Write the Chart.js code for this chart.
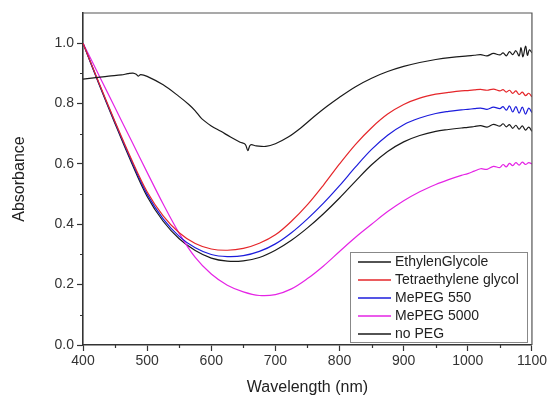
<!DOCTYPE html>
<html>
<head>
<meta charset="utf-8">
<script src="https://cdn.jsdelivr.net/npm/chart.js@4"></script>
<style>
  body { margin: 0; background: #fff; }
  canvas { display: block; }
</style>
</head>
<body>
<canvas id="chart_container" width="549" height="399"></canvas>
<script>
// shared wavelength grid (nm)
const wavelength = [400, 425, 450, 475, 500, 525, 550, 575, 600, 625, 650, 675, 700, 725, 750, 775, 800, 825, 850, 875, 900, 925, 950,
  970, 990, 1000, 1010, 1020, 1030, 1040, 1050, 1055, 1060, 1065, 1070, 1075, 1080, 1085, 1090, 1095, 1100]

const tetraethylene = [1.0, 0.868, 0.74, 0.618, 0.508, 0.428, 0.372, 0.336, 0.318, 0.314, 0.32, 0.337, 0.365, 0.41, 0.465, 0.53, 0.60, 0.665, 0.72, 0.765, 0.797, 0.818, 0.831,
  0.837, 0.842, 0.843, 0.845, 0.847, 0.844, 0.848, 0.842, 0.846, 0.838, 0.844, 0.834, 0.842, 0.83, 0.838, 0.826, 0.834, 0.822]

const mepeg550 = [1.0, 0.866, 0.737, 0.613, 0.5, 0.418, 0.36, 0.322, 0.30, 0.293, 0.296, 0.31, 0.335, 0.372, 0.418, 0.47, 0.528, 0.59, 0.648, 0.695, 0.73, 0.752, 0.767,
  0.774, 0.779, 0.781, 0.783, 0.785, 0.781, 0.788, 0.783, 0.79, 0.778, 0.792, 0.772, 0.79, 0.768, 0.788, 0.765, 0.785, 0.77]

const mepeg5000 = [1.0, 0.893, 0.786, 0.679, 0.572, 0.467, 0.37, 0.29, 0.235, 0.198, 0.176, 0.164, 0.167, 0.186, 0.22, 0.262, 0.31, 0.357, 0.4, 0.442, 0.478, 0.508, 0.532,
  0.548, 0.562, 0.568, 0.576, 0.584, 0.582, 0.592, 0.588, 0.598, 0.59, 0.602, 0.594, 0.604, 0.596, 0.606, 0.598, 0.604, 0.6]

const noPeg = [1.0, 0.864, 0.733, 0.607, 0.492, 0.41, 0.352, 0.313, 0.288, 0.278, 0.279, 0.29, 0.314, 0.347, 0.388, 0.435, 0.487, 0.543, 0.597, 0.641, 0.673, 0.694, 0.708,
  0.714, 0.719, 0.721, 0.724, 0.727, 0.722, 0.731, 0.725, 0.733, 0.723, 0.73, 0.718, 0.728, 0.715, 0.726, 0.712, 0.722, 0.708]

// ethylene glycol has its own sampling (notches at ~486 and ~657 nm)
const egWavelength = [400, 420, 440, 460, 470, 478, 483, 486, 490, 500, 525, 550, 565, 575, 585, 600, 615, 630, 645, 653, 657, 661, 670, 685, 700,
  720, 740, 760, 780, 800, 825, 850, 875, 900, 925, 950, 975, 1000, 1010, 1020, 1030, 1040, 1050, 1055, 1060, 1065, 1070, 1075, 1080,
  1083, 1086, 1090, 1093, 1096, 1100]
const ethylenGlycole = [0.881, 0.886, 0.891, 0.895, 0.899, 0.901, 0.897, 0.891, 0.896, 0.89, 0.862, 0.823, 0.797, 0.776, 0.75, 0.726, 0.708, 0.689, 0.672, 0.665, 0.644, 0.663, 0.66, 0.658, 0.667,
  0.689, 0.72, 0.756, 0.79, 0.821, 0.856, 0.884, 0.906, 0.923, 0.936, 0.946, 0.953, 0.958, 0.96, 0.962, 0.958, 0.966, 0.961, 0.968, 0.958, 0.972, 0.962, 0.975, 0.958,
  0.985, 0.955, 0.99, 0.96, 0.978, 0.968]

const xTicks = [400, 500, 600, 700, 800, 900, 1000, 1100]
const yTicks = [0.0, 0.2, 0.4, 0.6, 0.8, 1.0]

const seriesNames  = ['EthylenGlycole', 'Tetraethylene glycol', 'MePEG 550', 'MePEG 5000', 'no PEG']
const seriesColors = ['#1a1a1a', '#e5262a', '#1c1cdc', '#e524e5', '#1a1a1a']

const FONT = "'Liberation Sans', Arial, sans-serif"
const AXIS_COLOR = '#333'

function points(xs, ys){
  return xs.map((x, i) => ({ x: x, y: ys[i] }))
}

const seriesData = [
  points(egWavelength, ethylenGlycole),
  points(wavelength, tetraethylene),
  points(wavelength, mepeg550),
  points(wavelength, mepeg5000),
  points(wavelength, noPeg)
]

// frame, minor ticks and the boxed legend inside the plot
const decor = {
  id: 'decor',
  afterDraw(chart){
    const ctx = chart.ctx
    const area = chart.chartArea
    const xs = chart.scales.x
    const ys = chart.scales.y

    ctx.save()
    ctx.strokeStyle = '#555'
    ctx.lineWidth = 1.2
    ctx.beginPath()
    ctx.moveTo(area.left, area.top)
    ctx.lineTo(area.right, area.top)
    ctx.lineTo(area.right, area.bottom)
    ctx.stroke()

    ctx.strokeStyle = AXIS_COLOR
    ctx.lineWidth = 1.2
    ctx.beginPath()
    for (let v = 450; v < 1100; v += 100){
      const px = Math.round(xs.getPixelForValue(v)) + 0.5
      ctx.moveTo(px, area.bottom)
      ctx.lineTo(px, area.bottom + 3)
    }
    for (let v = 0.1; v < 1.05; v += 0.2){
      const py = Math.round(ys.getPixelForValue(v)) + 0.5
      ctx.moveTo(area.left, py)
      ctx.lineTo(area.left - 3, py)
    }
    ctx.stroke()

    // legend box
    const bx = 350, by = 252, bw = 177, bh = 90
    ctx.fillStyle = '#fff'
    ctx.fillRect(bx, by, bw, bh)
    ctx.strokeStyle = '#888'
    ctx.lineWidth = 1
    ctx.strokeRect(bx + 0.5, by + 0.5, bw, bh)

    ctx.font = '14px ' + FONT
    ctx.textBaseline = 'middle'
    ctx.fillStyle = '#222'
    chart.data.datasets.forEach((ds, i) => {
      const ly = by + 10 + i * 18
      ctx.strokeStyle = ds.borderColor
      ctx.lineWidth = 1.5
      ctx.beginPath()
      ctx.moveTo(358, ly)
      ctx.lineTo(391, ly)
      ctx.stroke()
      ctx.fillText(ds.label, 395, ly + 0.5)
    })
    ctx.restore()
  }
}

new Chart(document.getElementById('chart_container'), {
  type: 'line',
  data: {
    datasets: seriesNames.map((name, i) => ({
      label: name,
      data: seriesData[i],
      borderColor: seriesColors[i],
      borderWidth: 1.2,
      pointRadius: 0,
      tension: 0.35,
      fill: false
    }))
  },
  options: {
    responsive: false,
    animation: false,
    layout: { padding: { left: 0, top: 13, right: 16, bottom: 0 } },
    plugins: {
      legend: { display: false },
      tooltip: { enabled: false }
    },
    scales: {
      x: {
        type: 'linear',
        min: 400,
        max: 1100,
        afterBuildTicks: s => { s.ticks = xTicks.map(v => ({ value: v })) },
        afterFit: s => { s.height = 54 },
        grid: { drawOnChartArea: false, drawTicks: true, tickLength: 6, tickColor: AXIS_COLOR, tickWidth: 1.2 },
        border: { display: true, color: AXIS_COLOR, width: 1.6 },
        ticks: { color: '#333', font: { family: FONT, size: 14 }, padding: 2, maxRotation: 0, callback: v => String(v) },
        title: { display: true, text: 'Wavelength (nm)', color: '#222', font: { family: FONT, size: 16 }, padding: { top: 0, bottom: 2 } }
      },
      y: {
        type: 'linear',
        min: 0,
        max: 1.1,
        afterBuildTicks: s => { s.ticks = yTicks.map(v => ({ value: v })) },
        afterFit: s => { s.width = 83 },
        grid: { drawOnChartArea: false, drawTicks: true, tickLength: 6, tickColor: AXIS_COLOR, tickWidth: 1.2 },
        border: { display: true, color: AXIS_COLOR, width: 1.6 },
        ticks: { color: '#333', font: { family: FONT, size: 14 }, padding: 3, callback: v => v.toFixed(1) },
        title: { display: true, text: 'Absorbance', color: '#222', font: { family: FONT, size: 16 }, padding: { top: 10, bottom: 0 } }
      }
    }
  },
  plugins: [decor]
})
</script>
</body>
</html>
